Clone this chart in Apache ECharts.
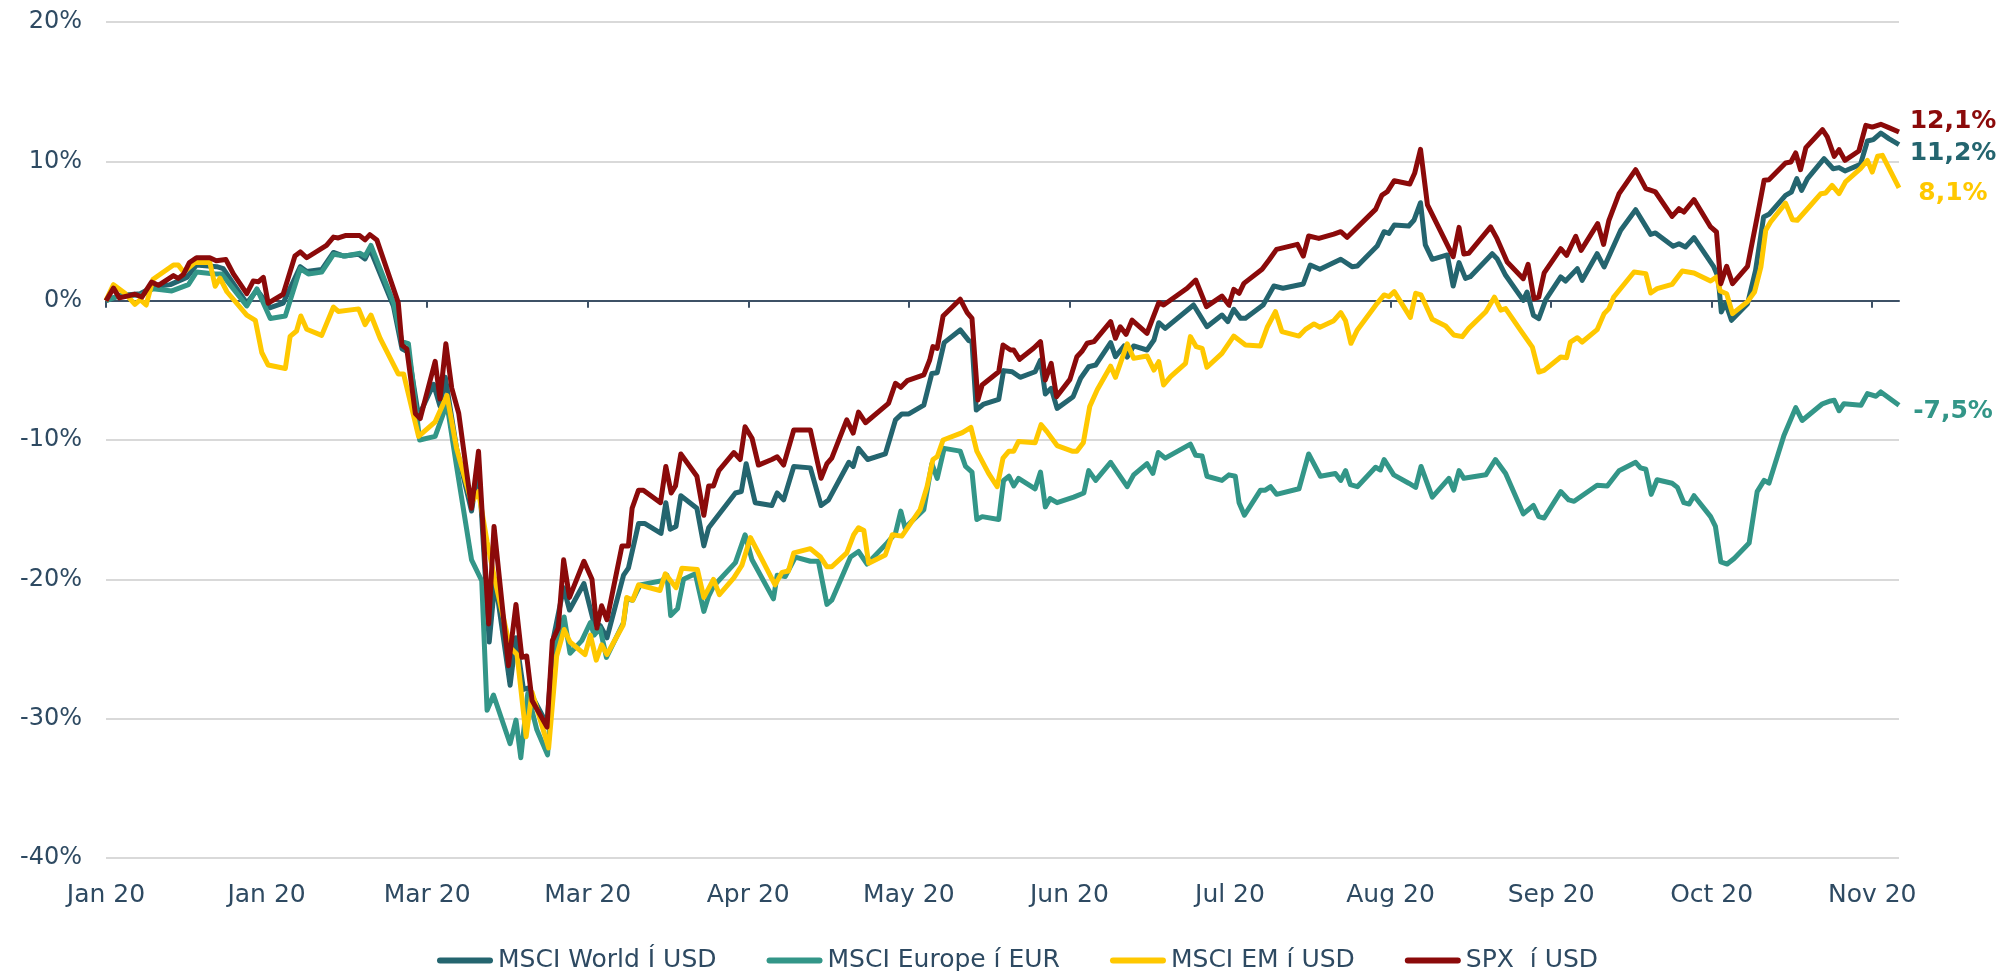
<!DOCTYPE html>
<html>
<head>
<meta charset="utf-8">
<title>Indices 2020</title>
<script src="https://cdn.jsdelivr.net/npm/echarts@6/dist/echarts.min.js"></script>
<style>
  html, body { margin: 0; padding: 0; background: #fff; }
  #chart { width: 2000px; height: 971px; }
</style>
</head>
<body>
<div id="chart"></div>
<script>
// x = calendar days since 1 Jan 2020, y = performance in %
const tickDays = [0, 30, 60, 90, 120, 150, 180, 210, 240, 270, 300, 330];
const tickLabels = ['Jan 20', 'Jan 20', 'Mar 20', 'Mar 20', 'Apr 20', 'May 20', 'Jun 20', 'Jul 20', 'Aug 20', 'Sep 20', 'Oct 20', 'Nov 20'];
const seriesNames = ['MSCI World Í USD', 'MSCI Europe í EUR', 'MSCI EM í USD', 'SPX  í USD'];

const worldData = [[0,0],[2.6,0.38],[6.4,0.5],[8.8,1.0],[12.0,1.15],[15.1,1.67],[16.9,2.56],[20.7,2.44],[21.9,2.3],[26.3,-0.18],[28.2,0.77],[30.7,-0.5],[33.1,-0.18],[36.3,2.44],[37.5,2.1],[40.3,2.23],[42.5,3.46],[44.4,3.2],[47.2,3.33],[48.4,3.0],[49.3,3.72],[53.7,-0.38],[55.3,-3.46],[56.5,-3.7],[58.4,-8.3],[61.2,-6.0],[62.4,-7.56],[63.4,-5.5],[65.5,-10.6],[68.3,-15.1],[69.6,-11.7],[71.6,-24.5],[72.7,-20.0],[75.5,-27.6],[76.6,-24.2],[78.0,-27.9],[78.8,-27.8],[82.4,-30.4],[83.6,-24.2],[85.5,-20.6],[86.6,-22.2],[89.3,-20.3],[91.2,-23.2],[92.3,-23.3],[93.6,-24.2],[96.7,-19.7],[97.6,-19.2],[99.5,-16.0],[100.7,-16.0],[103.7,-16.7],[104.6,-14.5],[105.4,-16.4],[106.5,-16.2],[107.4,-14.0],[110.4,-14.9],[111.7,-17.6],[112.6,-16.3],[113.6,-15.8],[117.6,-13.8],[118.7,-13.7],[119.6,-11.7],[121.3,-14.5],[124.4,-14.7],[125.4,-13.8],[126.6,-14.3],[128.5,-11.9],[131.6,-12.0],[133.6,-14.7],[135.0,-14.3],[138.8,-11.6],[139.6,-11.9],[140.6,-10.6],[142.3,-11.4],[145.6,-11.0],[147.5,-8.56],[148.7,-8.13],[150.0,-8.13],[152.8,-7.49],[154.3,-5.22],[155.3,-5.17],[156.6,-3.01],[159.6,-2.1],[161.2,-2.87],[161.8,-2.94],[162.6,-7.85],[164.0,-7.42],[166.8,-7.08],[167.7,-5.02],[169.3,-5.1],[170.8,-5.5],[173.6,-5.1],[174.6,-4.26],[175.5,-6.7],[176.6,-6.29],[177.7,-7.73],[180.7,-6.89],[182.1,-5.57],[183.6,-4.74],[184.9,-4.62],[187.7,-3.01],[188.6,-4.02],[190.2,-3.25],[190.8,-4.05],[192.0,-3.25],[194.5,-3.54],[195.8,-2.82],[196.7,-1.58],[197.9,-1.99],[203.2,-0.31],[205.7,-1.87],[208.5,-1.03],[209.6,-1.51],[210.7,-0.62],[212.0,-1.27],[212.9,-1.27],[216.2,-0.31],[218.2,1.05],[219.9,0.89],[223.7,1.2],[225.0,2.56],[226.8,2.25],[230.7,2.97],[232.8,2.44],[233.8,2.49],[237.5,3.92],[238.8,4.95],[239.7,4.83],[240.7,5.43],[243.4,5.36],[244.4,5.79],[245.6,7.03],[246.5,4.0],[247.8,2.97],[250.6,3.28],[251.7,1.05],[252.8,2.73],[254.0,1.6],[254.9,1.72],[259.0,3.37],[259.9,3.01],[261.5,1.82],[264.8,0.02],[265.5,0.62],[266.7,-1.05],[267.7,-1.29],[269.0,0.07],[271.8,1.7],[272.7,1.41],[274.9,2.3],[275.8,1.46],[278.6,3.37],[279.9,2.42],[283.0,5.05],[285.8,6.53],[288.6,4.76],[289.5,4.86],[292.8,3.9],[293.9,4.09],[295.1,3.85],[296.7,4.52],[300.4,2.42],[301.2,1.7],[301.8,-0.81],[302.6,-0.17],[303.7,-1.41],[306.7,-0.22],[308.2,2.18],[309.7,6.0],[310.7,6.2],[313.8,7.56],[314.9,7.8],[315.9,8.76],[316.8,7.92],[317.9,8.76],[321.0,10.19],[322.7,9.47],[323.8,9.55],[324.9,9.31],[327.8,9.78],[329.1,11.46],[330.2,11.56],[331.6,12.03],[333.1,11.63],[335,11.2]];

const europeData = [[0,0],[2.6,0.38],[6.4,0.38],[8.8,0.85],[12.3,0.7],[15.4,1.15],[16.9,2.05],[20.4,1.92],[21.6,1.92],[26.3,-0.38],[28.2,0.85],[30.7,-1.28],[33.5,-1.1],[36.3,2.3],[37.8,1.92],[40.3,2.05],[42.5,3.33],[44.7,3.2],[47.5,3.4],[48.4,3.2],[49.5,3.97],[53.7,-0.13],[55.3,-2.95],[56.5,-3.08],[58.6,-10.0],[61.5,-9.74],[63.7,-7.4],[65.5,-11.9],[68.3,-18.6],[70.2,-20.1],[71.2,-29.4],[72.4,-28.3],[75.5,-31.8],[76.6,-30.1],[77.5,-32.8],[78.8,-28.2],[80.5,-30.8],[82.5,-32.6],[83.9,-25.0],[85.6,-22.7],[86.7,-25.3],[88.9,-24.4],[90.5,-23.1],[91.2,-24.0],[92.3,-23.5],[93.5,-25.6],[96.7,-23.1],[97.3,-21.4],[98.4,-21.5],[99.8,-20.4],[103.9,-20.1],[104.8,-19.7],[105.5,-22.6],[106.8,-22.1],[107.9,-20.0],[110.1,-19.6],[111.7,-22.3],[112.6,-21.2],[113.5,-20.5],[117.6,-18.8],[119.4,-16.8],[120.7,-18.6],[124.7,-21.4],[125.4,-19.7],[126.9,-19.8],[128.8,-18.4],[131.6,-18.7],[133.1,-18.7],[134.7,-21.8],[135.6,-21.5],[139.1,-18.4],[140.6,-18.0],[142.2,-18.9],[145.9,-17.4],[147.5,-16.7],[148.5,-15.1],[149.3,-16.3],[152.8,-15.0],[154.3,-11.7],[155.3,-12.75],[156.6,-10.6],[159.6,-10.8],[160.6,-11.9],[161.8,-12.3],[162.7,-15.7],[163.7,-15.5],[166.8,-15.7],[167.7,-12.9],[168.7,-12.6],[169.6,-13.3],[170.5,-12.75],[173.6,-13.5],[174.6,-12.3],[175.5,-14.8],[176.4,-14.2],[177.7,-14.5],[180.8,-14.1],[182.7,-13.8],[183.6,-12.2],[184.9,-12.9],[187.7,-11.6],[190.8,-13.35],[192.0,-12.5],[194.5,-11.7],[195.6,-12.4],[196.6,-10.9],[197.9,-11.3],[202.6,-10.3],[203.6,-11.1],[204.8,-11.15],[205.7,-12.6],[208.5,-12.9],[209.8,-12.5],[211.0,-12.6],[211.7,-14.5],[212.7,-15.4],[215.7,-13.6],[216.6,-13.6],[217.6,-13.35],[218.7,-13.9],[222.9,-13.5],[224.7,-11.0],[226.9,-12.6],[229.7,-12.4],[230.7,-12.9],[231.6,-12.2],[232.5,-13.2],[233.8,-13.35],[237.2,-11.96],[238.1,-12.15],[238.8,-11.4],[240.6,-12.5],[243.4,-13.1],[244.7,-13.4],[245.7,-11.9],[247.8,-14.1],[250.9,-12.75],[251.8,-13.6],[252.8,-12.2],[253.7,-12.75],[257.8,-12.5],[259.6,-11.4],[261.5,-12.4],[264.8,-15.3],[266.7,-14.7],[267.7,-15.5],[268.7,-15.6],[271.8,-13.7],[273.3,-14.3],[274.3,-14.4],[278.6,-13.25],[280.5,-13.3],[282.7,-12.2],[285.8,-11.6],[286.7,-12.0],[287.7,-12.1],[288.7,-13.9],[289.8,-12.85],[292.6,-13.1],[293.6,-13.4],[294.8,-14.5],[295.8,-14.6],[296.7,-14.0],[299.8,-15.5],[300.7,-16.2],[301.7,-18.75],[302.9,-18.9],[304.2,-18.5],[307.0,-17.4],[308.5,-13.7],[309.8,-12.9],[310.7,-13.1],[313.5,-9.67],[315.7,-7.68],[316.9,-8.6],[320.7,-7.4],[322.2,-7.2],[322.9,-7.15],[323.8,-7.9],[324.7,-7.4],[327.9,-7.5],[329.1,-6.67],[330.7,-6.86],[331.6,-6.55],[335,-7.5]];

const emData = [[0,0],[1.4,1.15],[3.6,0.51],[5.4,-0.26],[6.4,0.08],[7.5,-0.31],[8.8,1.54],[12.6,2.56],[13.5,2.56],[14.5,2.05],[16.6,2.74],[19.4,2.74],[20.4,1.03],[21.3,1.62],[22.6,0.64],[26.3,-1.03],[27.9,-1.41],[29.1,-3.72],[30.3,-4.62],[33.5,-4.87],[34.4,-2.56],[35.6,-2.18],[36.4,-1.1],[37.5,-2.05],[40.3,-2.49],[42.5,-0.46],[43.4,-0.77],[47.2,-0.59],[48.4,-1.72],[49.5,-1.03],[51.2,-2.69],[54.6,-5.26],[55.6,-5.26],[58.4,-9.74],[61.5,-8.7],[63.7,-6.8],[65.5,-10.6],[68.3,-14.5],[69.6,-13.7],[71.2,-17.3],[72.7,-20.1],[75.5,-24.9],[76.8,-25.4],[78.5,-31.3],[79.6,-28.1],[82.7,-32.1],[84.2,-25.5],[85.6,-23.6],[86.7,-24.5],[89.5,-25.4],[90.5,-24.0],[91.6,-25.8],[92.6,-24.7],[93.6,-25.4],[96.6,-23.3],[97.3,-21.3],[98.4,-21.5],[99.5,-20.4],[103.5,-20.8],[104.5,-19.6],[106.5,-20.6],[107.6,-19.2],[110.5,-19.3],[111.7,-21.3],[113.5,-20.0],[114.6,-21.1],[117.3,-19.9],[118.8,-19.0],[120.4,-17.0],[122.6,-18.6],[125.0,-20.4],[126.3,-19.5],[127.5,-19.4],[128.5,-18.1],[131.6,-17.8],[133.5,-18.4],[134.7,-19.1],[135.6,-19.1],[138.4,-18.1],[139.7,-16.8],[140.6,-16.3],[141.6,-16.5],[142.5,-18.85],[145.6,-18.25],[146.9,-16.8],[148.7,-16.9],[152.1,-15.0],[153.4,-13.35],[154.5,-11.4],[155.3,-11.2],[156.4,-10.0],[160.0,-9.47],[161.6,-9.1],[162.7,-10.8],[164.9,-12.4],[166.5,-13.35],[167.6,-11.3],[168.7,-10.8],[169.6,-10.8],[170.5,-10.1],[173.6,-10.2],[174.7,-8.9],[175.8,-9.4],[177.7,-10.4],[180.5,-10.8],[181.4,-10.8],[182.6,-10.2],[183.8,-7.6],[185.2,-6.4],[187.7,-4.7],[188.6,-5.5],[190.8,-3.1],[192.0,-4.14],[194.5,-3.97],[195.8,-4.98],[196.7,-4.38],[197.6,-6.05],[198.9,-5.45],[201.7,-4.5],[202.6,-2.58],[203.7,-3.3],[204.8,-3.42],[205.7,-4.78],[208.5,-3.78],[210.7,-2.54],[212.9,-3.18],[215.7,-3.25],[217.0,-1.87],[218.5,-0.79],[219.7,-2.22],[222.9,-2.54],[224.1,-2.06],[225.7,-1.67],[226.8,-1.91],[229.4,-1.44],[230.7,-0.86],[231.6,-1.44],[232.6,-3.06],[233.8,-2.1],[237.5,-0.19],[238.8,0.41],[239.7,0.29],[240.7,0.65],[243.7,-1.2],[244.7,0.53],[245.7,0.41],[247.8,-1.34],[250.3,-1.82],[251.8,-2.46],[253.4,-2.58],[254.6,-1.99],[257.8,-0.79],[259.4,0.25],[260.6,-0.68],[261.5,-0.57],[264.3,-2.13],[266.5,-3.33],[267.7,-5.12],[268.7,-5.0],[271.8,-4.04],[272.9,-4.09],[273.6,-2.97],[274.9,-2.66],[275.8,-2.97],[278.6,-2.08],[279.9,-0.93],[280.8,-0.57],[281.7,0.26],[285.5,2.06],[287.7,1.94],[288.6,0.55],[289.8,0.86],[292.6,1.17],[294.5,2.13],[296.7,1.99],[299.8,1.41],[300.9,1.7],[301.6,0.69],[302.8,0.5],[303.9,-0.93],[306.7,-0.07],[308.0,0.62],[309.2,2.42],[310.1,5.05],[311.0,5.65],[313.8,7.0],[315.1,5.81],[316.0,5.77],[318.2,6.72],[320.4,7.68],[321.3,7.73],[322.5,8.28],[323.8,7.68],[325.0,8.52],[327.8,9.47],[329.1,10.07],[330.0,9.23],[331.0,10.36],[331.9,10.43],[335,8.1]];

const spxData = [[0,0],[1.4,0.9],[2.5,0.2],[5.4,0.46],[6.7,0.26],[8.5,1.33],[9.8,1.1],[12.6,1.8],[13.5,1.6],[14.5,1.9],[15.6,2.74],[16.9,3.08],[19.4,3.08],[20.6,2.87],[22.4,2.95],[23.8,1.92],[26.3,0.51],[27.5,1.41],[28.5,1.36],[29.4,1.67],[30.3,-0.18],[33.1,0.46],[35.3,3.2],[36.3,3.5],[37.5,3.08],[41.2,3.97],[42.5,4.56],[43.4,4.5],[44.7,4.67],[47.4,4.67],[48.4,4.36],[49.3,4.74],[50.6,4.36],[54.6,-0.13],[55.3,-3.2],[56.2,-3.46],[57.8,-8.1],[58.7,-8.46],[61.5,-4.36],[62.4,-7.05],[63.5,-3.1],[64.6,-6.28],[65.9,-8.08],[68.3,-14.9],[69.6,-10.8],[71.5,-23.2],[72.5,-16.2],[75.2,-26.2],[76.6,-21.8],[77.7,-25.6],[78.6,-25.5],[79.6,-28.7],[82.4,-30.6],[83.4,-24.4],[84.5,-23.5],[85.5,-18.6],[86.6,-21.3],[89.3,-18.7],[90.8,-20.0],[91.7,-23.5],[92.6,-21.9],[93.6,-22.9],[96.4,-17.6],[97.6,-17.6],[98.3,-14.9],[99.5,-13.6],[100.4,-13.6],[103.6,-14.5],[104.6,-11.9],[105.6,-13.8],[106.4,-13.3],[107.4,-11.0],[110.4,-12.6],[111.7,-15.4],[112.6,-13.3],[113.5,-13.3],[114.5,-12.2],[117.3,-10.9],[118.5,-11.4],[119.4,-9.05],[120.7,-9.87],[121.9,-11.8],[124.4,-11.4],[125.4,-11.2],[126.6,-11.8],[128.5,-9.28],[131.6,-9.28],[133.6,-12.75],[134.7,-11.7],[135.6,-11.3],[138.4,-8.56],[139.6,-9.5],[140.6,-8.0],[141.9,-8.76],[146.2,-7.37],[147.5,-5.93],[148.5,-6.22],[149.7,-5.74],[152.8,-5.33],[153.9,-4.26],[154.5,-3.3],[155.3,-3.42],[156.4,-1.1],[159.6,0.1],[160.9,-0.86],[161.8,-1.27],[162.9,-7.13],[163.7,-6.05],[166.8,-5.1],[167.6,-3.18],[169.0,-3.54],[169.6,-3.54],[170.7,-4.21],[173.3,-3.42],[174.6,-2.94],[175.5,-5.69],[176.6,-4.5],[177.6,-6.89],[180.1,-5.65],[181.4,-4.02],[182.4,-3.61],[183.3,-3.06],[184.6,-2.94],[187.7,-1.5],[188.6,-2.7],[189.5,-1.87],[190.6,-2.42],[191.7,-1.4],[194.5,-2.34],[196.7,-0.14],[197.6,-0.31],[202.0,0.89],[203.6,1.48],[205.6,-0.43],[208.5,0.33],[209.8,-0.31],[210.7,0.81],[211.7,0.53],[212.6,1.24],[216.0,2.25],[217.3,2.92],[218.7,3.68],[222.6,4.04],[223.7,3.2],[224.7,4.64],[226.6,4.47],[229.4,4.78],[230.7,4.95],[231.9,4.55],[237.2,6.55],[238.4,7.58],[239.4,7.82],[240.7,8.61],[243.6,8.37],[244.5,9.14],[245.6,10.86],[246.9,6.87],[251.7,3.16],[252.8,5.26],[253.7,3.35],[254.6,3.4],[258.7,5.3],[259.9,4.45],[261.8,2.78],[264.8,1.58],[265.7,2.61],[266.8,0.14],[267.7,0.26],[268.7,1.99],[271.8,3.73],[272.9,3.25],[274.6,4.62],[275.6,3.61],[278.7,5.53],[279.8,4.04],[280.8,5.77],[282.7,7.68],[285.8,9.4],[287.7,8.04],[289.5,7.8],[292.6,6.05],[293.9,6.6],[294.8,6.36],[296.7,7.25],[299.8,5.29],[300.9,4.93],[301.7,1.22],[302.8,2.46],[303.9,1.22],[306.7,2.46],[308.5,6.0],[309.8,8.64],[310.7,8.68],[313.8,9.88],[314.8,9.95],[315.7,10.6],[316.6,9.4],[317.6,10.98],[320.7,12.27],[321.6,11.75],[322.9,10.36],[323.8,10.84],[324.9,10.07],[327.5,10.74],[328.8,12.58],[330.0,12.46],[331.6,12.66],[333.1,12.42],[335,12.1]];

const textColor = '#2e4a62';
const fontFamily = 'DejaVu Sans';
const colors = ['#24656f', '#339688', '#ffc800', '#8b0a0a'];
const allData = [worldData, europeData, emData, spxData];
// vertical shift of the end labels so they do not collide
const labelShift = [9, 6, 6, -11];

const chart = echarts.init(document.getElementById('chart'));

function pct (v) {
  return v.toFixed(1).replace('.', ',') + '%';
}

const option = {
  animation: false,
  backgroundColor: '#fff',
  color: colors,
  grid: { left: 106, right: 101, top: 22, bottom: 113 },
  legend: {
    top: 943,
    left: 432,
    itemGap: 50,
    itemWidth: 56,
    itemHeight: 7,
    icon: 'path://M3,0 L53,0 A3,3 0 0 1 53,6 L3,6 A3,3 0 0 1 3,0 Z',
    data: seriesNames,
    textStyle: { color: textColor, fontSize: 25, fontFamily: fontFamily }
  },
  xAxis: [
    {
      type: 'value',
      position: 'bottom',
      min: 0,
      max: 335,
      axisLine: { show: false, onZero: false },
      axisTick: { show: false },
      splitLine: { show: false },
      axisLabel: {
        customValues: tickDays,
        margin: 25,
        color: textColor,
        fontSize: 25,
        fontFamily: fontFamily,
        formatter: function (v) {
          return tickLabels[Math.round(v / 30)];
        }
      }
    },
    {
      type: 'value',
      position: 'bottom',
      min: 0,
      max: 335,
      axisLine: { show: true, onZero: true, lineStyle: { color: '#3d5166', width: 2 } },
      axisTick: { show: true, customValues: tickDays, length: 7, lineStyle: { color: '#3d5166', width: 2 } },
      axisLabel: { show: false },
      splitLine: { show: false }
    }
  ],
  yAxis: {
    type: 'value',
    min: -40,
    max: 20,
    interval: 10,
    axisLine: { show: false },
    axisTick: { show: false },
    splitLine: { lineStyle: { color: '#d9d9d9', width: 2 } },
    axisLabel: {
      margin: 24,
      color: textColor,
      fontSize: 24,
      fontFamily: fontFamily,
      formatter: function (v) { return v + '%'; }
    }
  },
  series: seriesNames.map(function (name, i) {
    return {
      name: name,
      type: 'line',
      xAxisIndex: 0,
      data: allData[i],
      showSymbol: false,
      symbol: 'none',
      lineStyle: { width: 5, color: colors[i], join: 'round' },
      endLabel: {
        show: true,
        align: 'center',
        distance: 54,
        offset: [0, labelShift[i]],
        color: colors[i],
        fontSize: 25,
        fontWeight: 'bold',
        fontFamily: fontFamily,
        formatter: function (p) { return pct(p.value[1]); }
      }
    };
  })
};

chart.setOption(option);
window.onresize = chart.resize;
</script>
</body>
</html>
